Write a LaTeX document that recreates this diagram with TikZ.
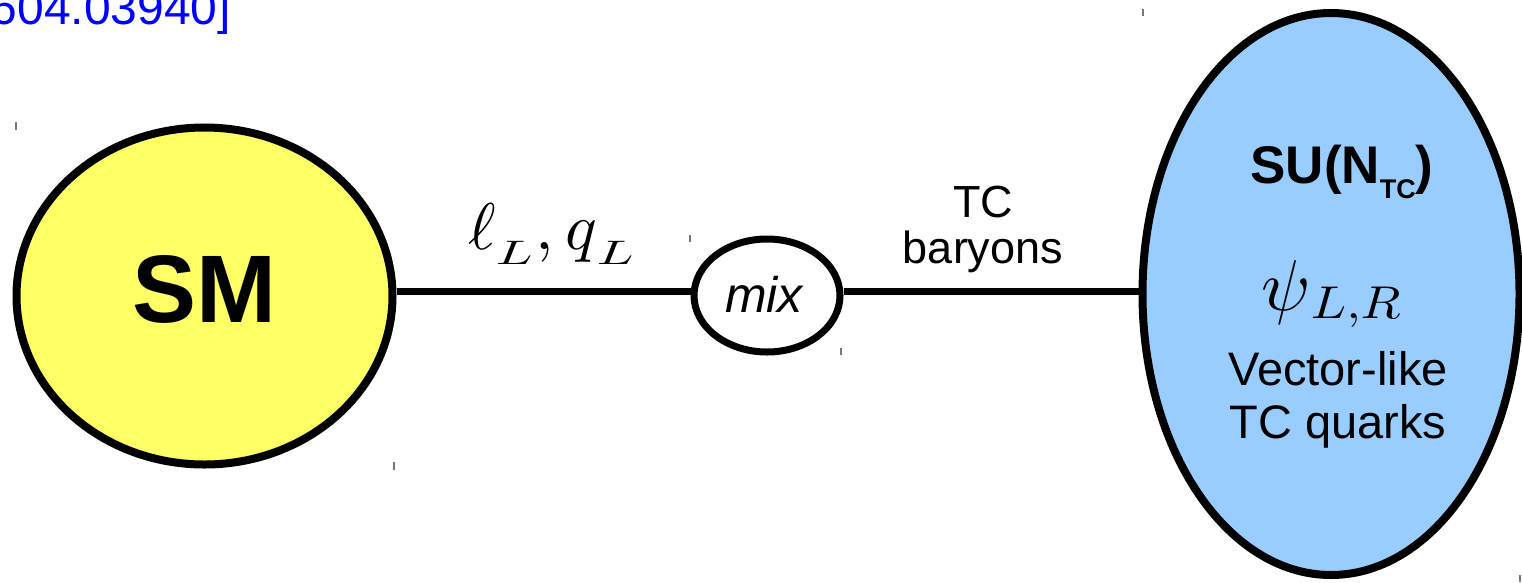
\documentclass[tikz,border=0pt]{standalone}
\usepackage{fontspec}
\setmainfont{Liberation Sans}
\usepackage{graphicx}
\usetikzlibrary{shapes.geometric}
\definecolor{smyellow}{HTML}{FFFF66}
\definecolor{tcblue}{HTML}{99CCFF}
\definecolor{linkblue}{HTML}{0000FF}
\definecolor{tickgray}{HTML}{777777}
\tikzset{
  blob/.style={draw=black, ellipse, line width=#1, inner sep=0pt},
  conn/.style={draw=black, line width=7pt},
  txt/.style={inner sep=0pt, outer sep=0pt, text=black},
  tickmark/.style={draw=tickgray, line width=1.5pt},
}
\begin{document}
\begin{tikzpicture}[x=1pt,y=-1pt]
\useasboundingbox (0,0) rectangle (1522,582);
% reference text, cut at the top-left
\node[txt, text=linkblue, anchor=base east, font=\fontsize{48}{48}\selectfont] (ref) at (231,24) {[arXiv:1604.03940]};
% shapes
\node[blob=8pt, fill=smyellow, minimum width=376pt, minimum height=337pt] (sm) at (204.5,296) {};
\node[blob=8pt, fill=tcblue, minimum width=377pt, minimum height=562pt] (tc) at (1331,294) {};
\node[blob=7pt, fill=white, minimum width=146pt, minimum height=113pt] (mix) at (767,295.5) {};
\coordinate (ly) at (0,291);
\draw[conn] (sm.east |- ly) -- (mix.west |- ly);
\draw[conn] (mix.east |- ly) -- (tc.west |- ly);
% texts
\node[txt, anchor=base, font=\bfseries\fontsize{96}{96}\selectfont] (smt) at (204,322) {SM};
\node[txt, anchor=base, font=\itshape\fontsize{50}{50}\selectfont] (mixt) at (764,312) {mix};
\node[txt, anchor=base, align=center, font=\fontsize{45}{46}\selectfont] (bar) at (983,263) {TC\\baryons};
\node[txt, anchor=base] (ellq) at (551,249)
  {\scalebox{6.6}{$\ell$}\raisebox{-15pt}{\scalebox{5.4}[3.4]{$L$}}\hspace{3pt}\scalebox{6.6}{$,$}\hspace{11pt}\scalebox{6.6}{$q$}\raisebox{-15pt}{\scalebox{5.4}[3.4]{$L$}}};
\node[txt, anchor=base, font=\bfseries\fontsize{53}{53}\selectfont] (su) at (1342,183)
  {SU(N\raisebox{-15pt}{\fontsize{27}{27}\selectfont TC})};
\node[txt, anchor=base] (psi) at (1331,310)
  {\scalebox{7.2}{$\psi$}\raisebox{-8pt}{\scalebox{5.2}[4.6]{$L,\!R$}}};
\node[txt, anchor=base, align=center, font=\fontsize{47}{53}\selectfont] (vl) at (1338,438) {Vector-like\\TC quarks};
% crop ticks
\draw[tickmark] (1143,9) -- (1143,16);
\draw[tickmark] (16,122) -- (16,130);
\draw[tickmark] (394,462) -- (394,470);
\draw[tickmark] (690,235) -- (690,242);
\draw[tickmark] (841,348) -- (841,355);
\draw[tickmark] (1520,575) -- (1520,582);
\end{tikzpicture}
\end{document}
